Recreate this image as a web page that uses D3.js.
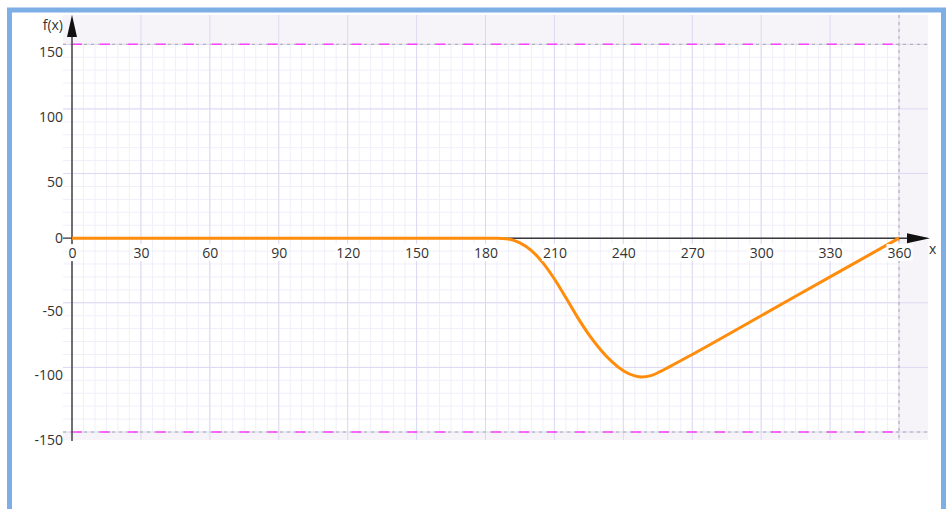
<!DOCTYPE html>
<html>
<head>
<meta charset="utf-8">
<script src="https://cdn.jsdelivr.net/npm/d3@7"></script>
<style>
  body { margin: 0; background: #fff; }
  svg text { font-family: 'Open Sans', 'Noto Sans', sans-serif; font-size: 14px; fill: #333; }
</style>
</head>
<body>
<div id="chart"></div>
<script>
// curve samples
const xValues = [0, 180, 185, 190, 195, 200, 205, 210, 215, 220, 225, 230, 235, 240, 245, 248, 252, 256, 260, 270, 300, 330, 360];
const yValues = [0, 0, 0, -0.6, -3.6, -9.6, -19.1, -31.6, -46.1, -61.1, -74.6, -86.1, -95.6, -102.6, -106.6, -107.5, -106.4, -103.3, -99.6, -90, -60, -30, 0];
const xTicks = [0, 30, 60, 90, 120, 150, 180, 210, 240, 270, 300, 330, 360];
const yTicks = [150, 100, 50, 0, -50, -100, -150];
const limits = [150, -150];

const width = 946;
const height = 509;

const points = xValues.map((x, i) => ({x: x, y: yValues[i]}));

const svg = d3.select('#chart')
  .append('svg')
    .attr('viewBox', [0, 0, width, height])
    .attr('width', width)
    .attr('height', height);

// outer frame
svg.append('rect')
    .attr('x', 9.5)
    .attr('y', 10)
    .attr('width', 934)
    .attr('height', 520)
    .attr('fill', 'none')
    .attr('stroke', '#7eaee6')
    .attr('stroke-width', 5);

const xScale = d3.scaleLinear()
  .domain([0, 360])
  .range([72, 899]);

const yScale = d3.scaleLinear()
  .domain([-150, 150])
  .range([432, 44.3]);

const area = {left: 63, right: 928, top: 15, bottom: 440};

// background: shaded outside the data range, white inside
svg.append('rect')
    .attr('x', area.left)
    .attr('y', area.top)
    .attr('width', area.right - area.left)
    .attr('height', area.bottom - area.top)
    .attr('fill', '#f7f4f9');

svg.append('rect')
    .attr('x', area.left)
    .attr('y', yScale(150))
    .attr('width', xScale(360) - area.left)
    .attr('height', yScale(-150) - yScale(150))
    .attr('fill', '#fff');

// minor grid
const grid = svg.append('g').attr('class', 'grid');

grid.selectAll('.minor-x')
  .data(d3.range(0, 361, 5))
  .join('line')
    .attr('x1', d => xScale(d))
    .attr('x2', d => xScale(d))
    .attr('y1', yScale(150))
    .attr('y2', yScale(-150))
    .attr('stroke', '#f0eefa')
    .attr('stroke-width', 1);

grid.selectAll('.minor-y')
  .data(d3.range(-150, 151, 10))
  .join('line')
    .attr('x1', area.left)
    .attr('x2', xScale(360))
    .attr('y1', d => yScale(d))
    .attr('y2', d => yScale(d))
    .attr('stroke', '#f0eefa')
    .attr('stroke-width', 1);

// major grid
grid.selectAll('.major-x')
  .data(xTicks)
  .join('line')
    .attr('x1', d => xScale(d))
    .attr('x2', d => xScale(d))
    .attr('y1', area.top)
    .attr('y2', area.bottom)
    .attr('stroke', '#dcd8f2')
    .attr('stroke-width', 1);

grid.selectAll('.major-y')
  .data(yTicks)
  .join('line')
    .attr('x1', area.left)
    .attr('x2', area.right)
    .attr('y1', d => yScale(d))
    .attr('y2', d => yScale(d))
    .attr('stroke', '#dcd8f2')
    .attr('stroke-width', 1);

// limit lines
svg.append('line')
    .attr('x1', xScale(360))
    .attr('x2', xScale(360))
    .attr('y1', area.top)
    .attr('y2', area.bottom)
    .attr('stroke', '#a8a8a8')
    .attr('stroke-dasharray', '3 4');

limits.forEach(v => {
  svg.append('line')
      .attr('x1', area.left)
      .attr('x2', area.right)
      .attr('y1', yScale(v))
      .attr('y2', yScale(v))
      .attr('stroke', '#a8a8a8')
      .attr('stroke-dasharray', '3 4');
  svg.append('line')
      .attr('x1', xScale(0))
      .attr('x2', xScale(360))
      .attr('y1', yScale(v))
      .attr('y2', yScale(v))
      .attr('stroke', '#ff44ff')
      .attr('stroke-width', 1.6)
      .attr('stroke-dasharray', '10 17.96');
});

// x axis line + arrow
svg.append('line')
    .attr('x1', xScale(0))
    .attr('x2', 912)
    .attr('y1', yScale(0))
    .attr('y2', yScale(0))
    .attr('stroke', '#3a3a3a')
    .attr('stroke-width', 1.5);

svg.append('path')
    .attr('d', `M930,${yScale(0)} L907,${yScale(0) - 5} L907,${yScale(0) + 5} Z`)
    .attr('fill', '#111');

svg.append('text')
    .attr('x', 929)
    .attr('y', 254)
    .text('x');

// x tick labels
const xAxis = svg.append('g')
    .attr('transform', `translate(0, ${yScale(0)})`)
    .call(d3.axisBottom(xScale).tickValues(xTicks).tickSize(0).tickPadding(10).tickFormat(d => String(d)));
xAxis.select('.domain').remove();
xAxis.selectAll('text')
    .attr('font-family', null)
    .attr('font-size', null)
    .attr('fill', null);

// y axis line + arrow
svg.append('line')
    .attr('x1', xScale(0))
    .attr('x2', xScale(0))
    .attr('y1', area.bottom + 1)
    .attr('y2', 30)
    .attr('stroke', '#444')
    .attr('stroke-width', 1.5);

svg.append('path')
    .attr('d', `M${xScale(0)},15 L${xScale(0) - 5},37 L${xScale(0) + 5},37 Z`)
    .attr('fill', '#111');

svg.append('line')
    .attr('x1', area.left)
    .attr('x2', xScale(0))
    .attr('y1', yScale(0))
    .attr('y2', yScale(0))
    .attr('stroke', '#444')
    .attr('stroke-width', 1.3);

svg.append('text')
    .attr('x', 63)
    .attr('y', 30)
    .attr('text-anchor', 'end')
    .text('f(x)');

const yAxis = svg.append('g')
    .attr('transform', `translate(${xScale(0)}, 0)`)
    .call(d3.axisLeft(yScale).tickValues(yTicks).tickSize(0).tickPadding(9).tickFormat(d => String(d)));
yAxis.select('.domain').remove();
yAxis.selectAll('text')
    .attr('font-family', null)
    .attr('font-size', null)
    .attr('fill', null)
    .attr('dy', d => d === 0 ? '0.32em' : '0.9em');

// the function curve
const line = d3.line()
  .x(d => xScale(d.x))
  .y(d => yScale(d.y))
  .curve(d3.curveMonotoneX);

svg.append('path')
    .datum(points)
    .attr('d', line)
    .attr('fill', 'none')
    .attr('stroke', '#ff8c0a')
    .attr('stroke-width', 3)
    .attr('stroke-linejoin', 'round');

// white backing behind x labels, labels raised above the curve
xAxis.selectAll('.tick').each(function() {
  const tick = d3.select(this);
  const box = tick.select('text').node().getBBox();
  tick.insert('rect', 'text')
      .attr('x', box.x - 1)
      .attr('y', box.y + 1)
      .attr('width', box.width + 2)
      .attr('height', box.height - 2)
      .attr('fill', '#fff');
});
xAxis.raise();
</script>
</body>
</html>
